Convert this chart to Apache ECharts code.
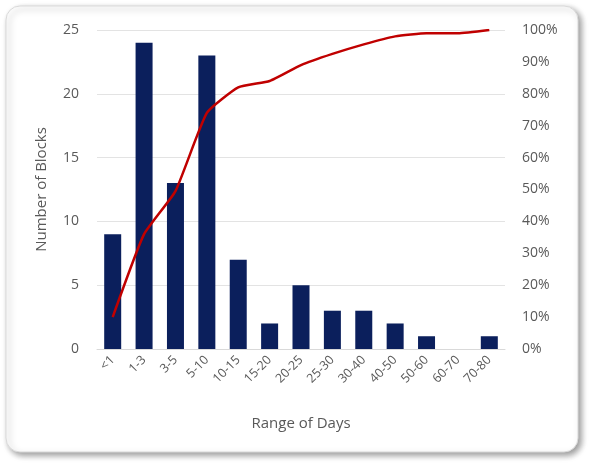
<!DOCTYPE html>
<html><head><meta charset="utf-8">
<script src="https://cdn.jsdelivr.net/npm/echarts@6/dist/echarts.min.js"></script>
<style>html,body{margin:0;padding:0;background:#fff}#c{width:590px;height:463px}</style>
</head><body><div id="c"></div>
<script>
const categories = ['<1','1-3','3-5','5-10','10-15','15-20','20-25','25-30','30-40','40-50','50-60','60-70','70-80'];
const blocks = [9,24,13,23,7,2,5,3,3,2,1,0,1];
const cumulativePct = [10,36,49.5,74,82,84,89,92.5,95.5,98,99,99,100];
const leftTicks = [0,5,10,15,20,25];
const rightTicks = [0,10,20,30,40,50,60,70,80,90,100];

const chart = echarts.init(document.getElementById('c'));
const font = '"Open Sans", "Liberation Sans", sans-serif';
const gray = '#595959';
chart.setOption({
  animation:false,
  graphic:[{type:'rect',shape:{x:6,y:6,width:572,height:446,r:14},
    style:{fill:'#fff',stroke:'#d9d9d9',lineWidth:1,shadowBlur:6,shadowOffsetX:3,shadowOffsetY:3,shadowColor:'rgba(0,0,0,0.4)'},z:-10}],
  grid:{left:97,right:85,top:30,bottom:114},
  xAxis:{type:'category',data:categories,
    axisLine:{lineStyle:{color:'#d9d9d9'}},axisTick:{show:false},
    axisLabel:{rotate:45,color:gray,fontFamily:font,fontSize:12.5,interval:0,margin:9},
    name:'Range of Days',nameLocation:'middle',nameGap:67,
    nameTextStyle:{color:gray,fontFamily:font,fontSize:15}},
  yAxis:[{type:'value',min:0,max:25,interval:5,
    axisLine:{show:false},axisTick:{show:false},
    splitLine:{lineStyle:{color:'#e3e3e3'}},
    axisLabel:{color:gray,fontFamily:font,fontSize:14,margin:18,formatter:v=>leftTicks.includes(v)?String(v):''},
    name:'Number of Blocks',nameLocation:'middle',nameGap:48,
    nameTextStyle:{color:gray,fontFamily:font,fontSize:15}},
   {type:'value',min:0,max:100,interval:10,position:'right',
    axisLine:{show:false},axisTick:{show:false},splitLine:{show:false},
    axisLabel:{color:gray,fontFamily:font,fontSize:14,margin:17,formatter:v=>rightTicks.includes(v)?v+'%':''}}],
  series:[{type:'bar',data:blocks,barWidth:17,itemStyle:{color:'#0b1f5c'}},
    {type:'line',yAxisIndex:1,data:cumulativePct,smooth:0.15,symbol:'none',
     lineStyle:{color:'#c00000',width:2.5}}]
});
</script></body></html>
